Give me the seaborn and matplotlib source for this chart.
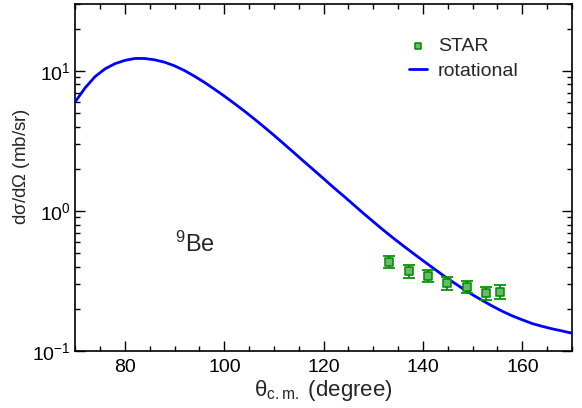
import numpy as np
import pandas as pd
import matplotlib
matplotlib.use("Agg")
import matplotlib.pyplot as plt
import seaborn as sns
from matplotlib.ticker import MultipleLocator, LogLocator, FixedLocator, NullFormatter

# Theory curve (rotational)
theta_curve = [70, 72, 74, 76, 78, 80, 82, 84, 86, 88, 90, 92, 94, 96, 98, 100,
               102, 104, 106, 108, 110, 112, 114, 116, 118, 120, 122, 124, 126, 128,
               130, 132, 134, 136, 138, 140, 142, 144, 146, 148, 150, 152, 154, 156,
               158, 160, 162, 164, 166, 168, 170]
sigma_curve = [6.03, 7.59, 9.12, 10.35, 11.27, 11.89, 12.27, 12.26, 11.99, 11.53, 10.86,
               10.05, 9.16, 8.28, 7.41, 6.61, 5.86, 5.18, 4.55, 3.98, 3.47, 3.01, 2.61,
               2.26, 1.96, 1.70, 1.47, 1.28, 1.11, 0.962, 0.838, 0.731, 0.641, 0.565,
               0.499, 0.442, 0.392, 0.348, 0.311, 0.279, 0.252, 0.229, 0.209, 0.192,
               0.178, 0.167, 0.157, 0.150, 0.144, 0.139, 0.134]

# STAR data
theta_star = [133.2, 137.1, 141.1, 144.9, 148.8, 152.7, 155.5]
sigma_star = [0.435, 0.372, 0.345, 0.305, 0.288, 0.259, 0.265]
err_star = [0.045, 0.040, 0.036, 0.032, 0.030, 0.028, 0.029]

xticks = [80, 100, 120, 140, 160]
yticks = [0.1, 1, 10]
ytick_labels = ["$10^{-1}$", "$10^{0}$", "$10^{1}$"]

sns.set_theme(style="ticks")
plt.rcParams['font.family'] = ['Liberation Sans', 'DejaVu Sans']
plt.rcParams['mathtext.fontset'] = 'custom'
plt.rcParams['mathtext.rm'] = 'Liberation Sans'
plt.rcParams['mathtext.it'] = 'Liberation Sans:italic'
plt.rcParams['mathtext.sf'] = 'Liberation Sans'

fig = plt.figure(figsize=(5.82, 4.08), dpi=100)
ax = fig.add_axes([0.1294, 0.1397, 0.9828 - 0.1294, 0.990 - 0.1397])

df_curve = pd.DataFrame({"theta": theta_curve, "sigma": sigma_curve})
sns.lineplot(data=df_curve, x="theta", y="sigma", ax=ax, color="#0000ff", lw=2.0,
             label="rotational", zorder=3)

ax.errorbar(theta_star, sigma_star, yerr=err_star, fmt="none", ecolor="#009900",
            elinewidth=1.3, capsize=4, capthick=1.3, zorder=4)
df_star = pd.DataFrame({"theta": theta_star, "sigma": sigma_star})
sns.scatterplot(data=df_star, x="theta", y="sigma", ax=ax, marker="s", s=32,
                color="#66bb66", edgecolor="#008800", linewidth=1.1, label="STAR", zorder=5)

ax.set_yscale("log")
ax.set_xlim(70, 170)
ax.set_ylim(0.1, 30)

ax.xaxis.set_major_locator(FixedLocator(xticks))
ax.xaxis.set_minor_locator(MultipleLocator(5))
ax.yaxis.set_major_locator(FixedLocator(yticks))
ax.set_yticklabels(ytick_labels)
ax.yaxis.set_minor_locator(LogLocator(base=10, subs=np.arange(2, 10)))
ax.yaxis.set_minor_formatter(NullFormatter())

ax.tick_params(which="both", direction="in", top=True, right=True, colors="black")
ax.tick_params(which="major", length=7, width=1.0, labelsize=14)
ax.tick_params(which="minor", length=3.5, width=1.0)
ax.tick_params(axis="x", which="major", pad=6)
for sp in ax.spines.values():
    sp.set_linewidth(1.2)
    sp.set_color("black")

ax.set_xlabel(r"$\mathregular{\theta_{c.m.}}$ (degree)", fontsize=16, labelpad=1)
ax.set_ylabel(r"d$\mathregular{\sigma}$/d$\mathregular{\Omega}$ (mb/sr)", fontsize=13.5)
ax.yaxis.set_label_coords(-0.088, 0.531)

ax.text(0.20, 0.285, r"$\mathregular{^{9}}$Be", transform=ax.transAxes, fontsize=17,
        ha="left", va="baseline")

handles, labels = ax.get_legend_handles_labels()
order = [labels.index("STAR"), labels.index("rotational")]
leg = ax.legend([handles[i] for i in order], [labels[i] for i in order],
                loc="upper left", bbox_to_anchor=(0.64, 0.948), frameon=False,
                fontsize=14, handlelength=0.95, handletextpad=0.55, labelspacing=0.35,
                markerscale=0.85, borderpad=0.3)

fig.savefig("out.png", dpi=100)
